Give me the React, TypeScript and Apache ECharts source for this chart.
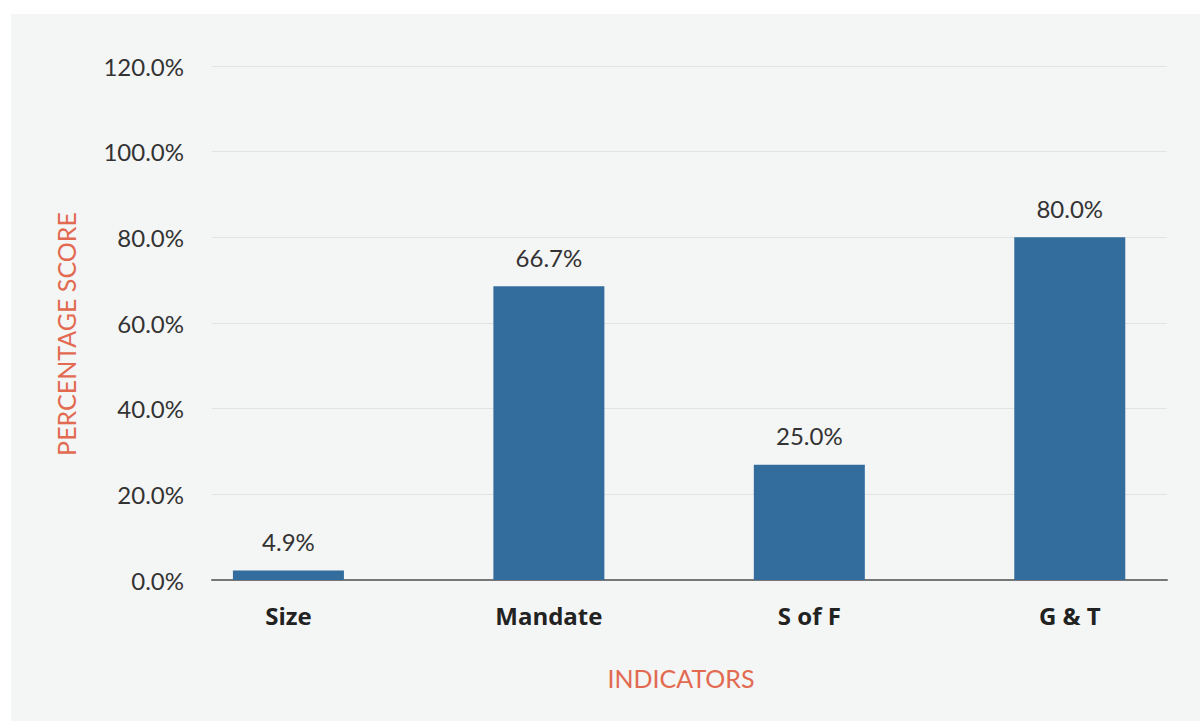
import React, { useEffect, useRef } from "react";
import * as echarts from "echarts";

const categories = ["Size", "Mandate", "S of F", "G & T"];
const barValues = [2.2, 68.6, 26.9, 80.0];
const barLabels = ["4.9%", "66.7%", "25.0%", "80.0%"];
const yTicks = [0, 20, 40, 60, 80, 100, 120];
const xAxisTitle = "INDICATORS";
const yAxisTitle = "PERCENTAGE SCORE";

const FONT = "Lato, 'Open Sans', sans-serif";
const BOLD_FONT = "'Open Sans', Lato, sans-serif";
const TITLE_COLOR = "#e26a50";

export default function App() {
  const ref = useRef<HTMLDivElement>(null);

  useEffect(() => {
    if (!ref.current) return;
    const chart = echarts.init(ref.current, undefined, { renderer: "svg" });
    const yMin = yTicks[0];
    const yMax = yTicks[yTicks.length - 1];
    const yInterval = yTicks[1] - yTicks[0];
    chart.setOption({
      animation: false,
      backgroundColor: "transparent",
      textStyle: { fontFamily: FONT },
      grid: [
        { left: 212, right: 33, top: 66, bottom: 142, containLabel: false },
        { left: 158.2, width: 1042.7, top: 66, bottom: 142, containLabel: false },
      ],
      xAxis: [
        {
          type: "category",
          gridIndex: 0,
          data: categories,
          axisLine: { show: true, lineStyle: { color: "#767778", width: 2 } },
          axisTick: { show: false },
          axisLabel: { show: false },
          splitLine: { show: false },
        },
        {
          type: "category",
          gridIndex: 1,
          data: categories,
          axisLine: { show: false },
          axisTick: { show: false },
          axisLabel: {
            show: true,
            margin: 23,
            fontSize: 24,
            fontWeight: "bold",
            color: "#222222",
            fontFamily: BOLD_FONT,
          },
          splitLine: { show: false },
        },
      ],
      yAxis: [
        {
          type: "value",
          gridIndex: 0,
          min: yMin,
          max: yMax,
          interval: yInterval,
          axisLine: { show: false },
          axisTick: { show: false },
          axisLabel: {
            margin: 28,
            fontSize: 24,
            color: "#333333",
            fontFamily: FONT,
            padding: [0, 0, 4, 0],
            formatter: (v: number) => `${v.toFixed(1)}%`,
          },
          splitLine: { show: true, lineStyle: { color: "#e2e3e3", width: 1 } },
        },
        {
          type: "value",
          gridIndex: 1,
          min: yMin,
          max: yMax,
          interval: yInterval,
          show: false,
          splitLine: { show: false },
        },
      ],
      series: [
        {
          type: "bar",
          xAxisIndex: 1,
          yAxisIndex: 1,
          data: barValues,
          barWidth: 111,
          itemStyle: { color: "#336d9e" },
          label: {
            show: true,
            position: "top",
            distance: 17,
            fontSize: 24,
            color: "#333333",
            fontFamily: FONT,
            formatter: (p: any) => barLabels[p.dataIndex],
          },
        },
      ],
      graphic: [
        {
          type: "text",
          x: 681,
          y: 678,
          style: {
            text: xAxisTitle,
            fill: TITLE_COLOR,
            fontSize: 25,
            fontFamily: FONT,
            align: "center",
            verticalAlign: "middle",
          },
        },
        {
          type: "text",
          x: 66,
          y: 334,
          rotation: Math.PI / 2,
          style: {
            text: yAxisTitle,
            fill: TITLE_COLOR,
            fontSize: 25,
            fontFamily: FONT,
            align: "center",
            verticalAlign: "middle",
          },
        },
      ],
    });
    return () => chart.dispose();
  }, []);

  return (
    <div
      style={{
        position: "absolute",
        left: 0,
        top: 0,
        width: 1200,
        height: 722,
        background: "#ffffff",
        overflow: "hidden",
      }}
    >
      <div
        style={{
          position: "absolute",
          left: 11,
          top: 14,
          width: 1189,
          height: 707,
          background: "#f4f5f5",
        }}
      />
      <div
        ref={ref}
        style={{ position: "absolute", left: 0, top: 0, width: 1200, height: 722 }}
      />
    </div>
  );
}
